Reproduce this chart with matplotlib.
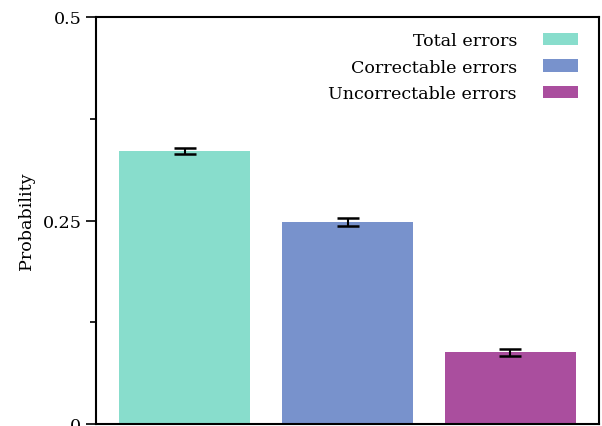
import matplotlib
matplotlib.use("Agg")
import matplotlib.pyplot as plt
from matplotlib.patches import Patch

labels = ["Total errors", "Correctable errors", "Uncorrectable errors"]
probs = [0.335, 0.248, 0.088]
errs = [0.0035, 0.0045, 0.004]
colors = ["#88ddcc", "#7892cc", "#aa4e9e"]

plt.rcParams["font.family"] = "DejaVu Serif"
plt.rcParams["font.size"] = 12.6

fig = plt.figure(figsize=(6.02, 4.27), dpi=100)
ax = fig.add_axes([96 / 602, 2 / 427, 503 / 602, 407 / 427])

xs = range(len(probs))
ax.bar(xs, probs, width=0.8, color=colors)
ax.errorbar(xs, probs, yerr=errs, fmt="none", ecolor="black",
            elinewidth=1.5, capsize=8, capthick=1.8)

ax.set_xlim(-0.543, 2.543)
ax.set_ylim(0, 0.5)
ax.set_xticks([])
ax.set_yticks([0, 0.25, 0.5])
ax.set_yticklabels(["0", "0.25", "0.5"])
ax.set_yticks([0.125, 0.375], minor=True)
ax.tick_params(axis="y", which="major", direction="out", length=7, width=1.2)
ax.tick_params(axis="y", which="minor", direction="out", length=4, width=1.2)
for s in ax.spines.values():
    s.set_linewidth(1.5)
ax.set_ylabel("Probability", labelpad=5)

handles = [Patch(facecolor=c) for c in colors]
ax.legend(handles, labels, loc="upper right", frameon=False, markerfirst=False,
          handlelength=2.0, handletextpad=1.5, labelspacing=0.55,
          bbox_to_anchor=(0.99, 1.002))

fig.savefig("out.png", dpi=100)
